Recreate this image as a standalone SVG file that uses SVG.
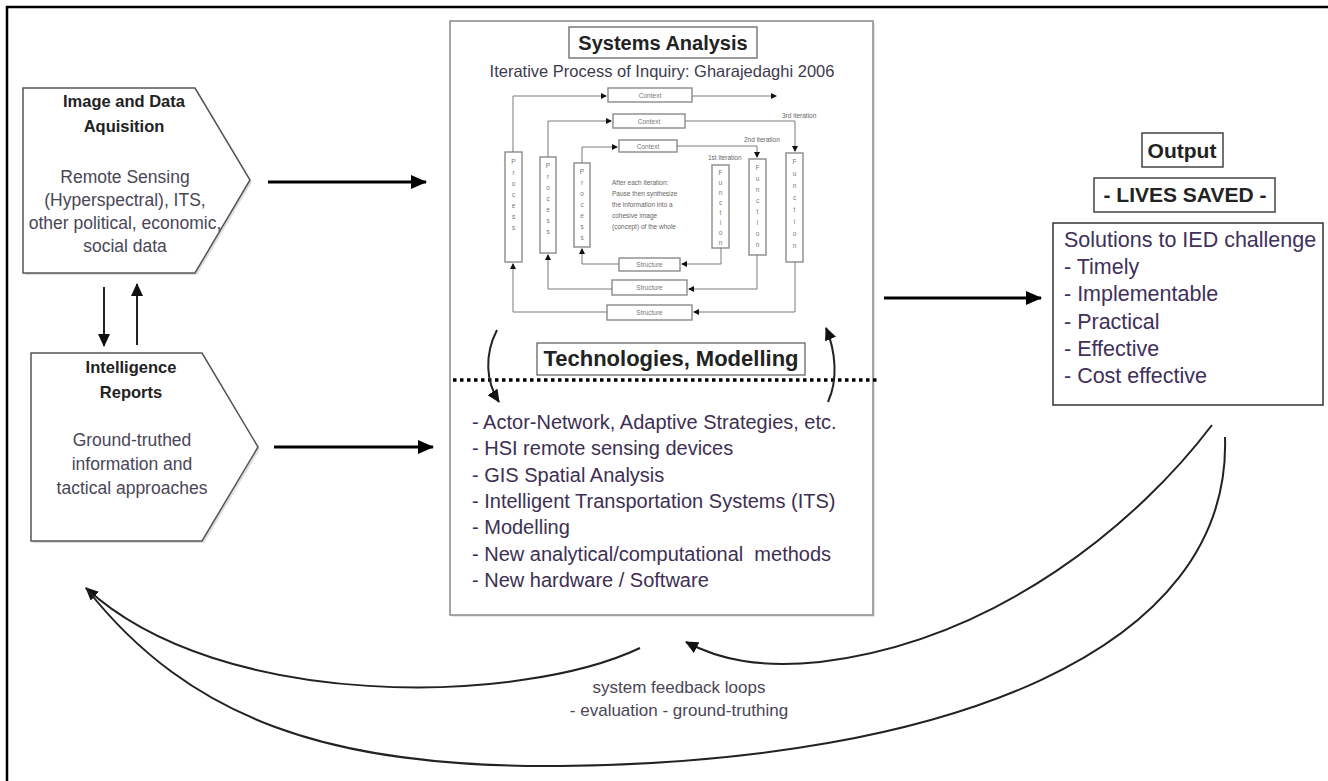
<svg xmlns="http://www.w3.org/2000/svg" width="1328" height="781" viewBox="0 0 1328 781">
<style>
text{font-family:"Liberation Sans",Arial,sans-serif}
.ttl{font-weight:bold;fill:#222;text-anchor:middle}
.body{fill:#4a4656;text-anchor:middle;font-size:17.5px}
.lst{fill:#3e2f52;font-size:20px}
.sol{fill:#40305a;font-size:21.5px}
.mini{fill:none;stroke:#8a8a8a;stroke-width:1.4}
.mline{fill:none;stroke:#7a7a7a;stroke-width:1}
.ml{font-size:6.5px;fill:#777;text-anchor:middle}
.mt{font-size:6.5px;fill:#666}
.big{stroke:#000;stroke-width:3;fill:none}
.fb{stroke:#222;stroke-width:2;fill:none}
</style>
<defs>
<marker id="ah" markerUnits="userSpaceOnUse" markerWidth="16" markerHeight="14" refX="15" refY="7" orient="auto"><path d="M0,0 L16,7 L0,14 z" fill="#000"/></marker>
<marker id="ahm" markerUnits="userSpaceOnUse" markerWidth="13" markerHeight="12" refX="12" refY="6" orient="auto"><path d="M0,0 L13,6 L0,12 z" fill="#111"/></marker>
<marker id="ahs" markerUnits="userSpaceOnUse" markerWidth="6" markerHeight="6" refX="5" refY="3" orient="auto"><path d="M0,0 L6,3 L0,6 z" fill="#111"/></marker>
</defs>
<rect x="0" y="0" width="1328" height="781" fill="#fff"/>
<rect x="7" y="7" width="1330" height="790" fill="none" stroke="#000" stroke-width="2.5"/>

<g id="node-image-data">
<polygon points="25,90 197,90 252,182 197,275 25,275" fill="#ddd" stroke="none"/>
<polygon points="23,88 195,88 250,180 195,273 23,273" fill="#fff" stroke="#555" stroke-width="1.5"/>
<text class="ttl" x="124" y="107" font-size="16.5">Image and Data</text>
<text class="ttl" x="124" y="132" font-size="16.5">Aquisition</text>
<text class="body" x="125" y="183">Remote Sensing</text>
<text class="body" x="125" y="206">(Hyperspectral), ITS,</text>
<text class="body" x="125" y="229">other political, economic,</text>
<text class="body" x="125" y="252">social data</text>
</g>

<g id="node-intelligence">
<polygon points="33,355 204,355 260,449 204,543 33,543" fill="#ddd" stroke="none"/>
<polygon points="31,353 202,353 258,447 202,541 31,541" fill="#fff" stroke="#555" stroke-width="1.5"/>
<text class="ttl" x="131" y="373" font-size="16.5">Intelligence</text>
<text class="ttl" x="131" y="398" font-size="16.5">Reports</text>
<text class="body" x="132" y="446">Ground-truthed</text>
<text class="body" x="132" y="470">information and</text>
<text class="body" x="132" y="494">tactical approaches</text>
</g>

<g id="node-systems-analysis">
<rect x="452" y="23" width="423" height="594" fill="#e6e6e6"/>
<rect x="450" y="21" width="423" height="594" fill="#fff" stroke="#888" stroke-width="1.5"/>
<rect x="569" y="27" width="188" height="31" fill="#fff" stroke="#666" stroke-width="1.3"/>
<text class="ttl" x="663" y="50" font-size="20">Systems Analysis</text>
<text x="662" y="77" font-size="16.5" fill="#3e3a4e" text-anchor="middle">Iterative Process of Inquiry: Gharajedaghi 2006</text>

<g id="iterative-process">
<rect class="mini" x="608" y="88" width="84" height="14"/>
<rect class="mini" x="613" y="114" width="72" height="14"/>
<rect class="mini" x="619" y="140" width="58" height="12"/>
<text class="ml" x="650" y="97.5">Context</text>
<text class="ml" x="649" y="123.5">Context</text>
<text class="ml" x="648" y="148.5">Context</text>
<rect class="mini" x="619" y="258" width="61" height="13"/>
<rect class="mini" x="612" y="280" width="75" height="15"/>
<rect class="mini" x="607" y="305" width="85" height="15"/>
<text class="ml" x="649.5" y="267">Structure</text>
<text class="ml" x="649.5" y="290">Structure</text>
<text class="ml" x="649.5" y="315">Structure</text>
<rect class="mini" x="505" y="152" width="17" height="110"/>
<rect class="mini" x="540" y="157" width="16" height="96"/>
<rect class="mini" x="574" y="163" width="16" height="84"/>
<rect class="mini" x="712" y="165" width="17" height="83"/>
<rect class="mini" x="749" y="159" width="17" height="96"/>
<rect class="mini" x="786" y="153" width="17" height="109"/>
<text class="ml"><tspan x="513.5" y="164">P</tspan><tspan x="513.5" y="175">r</tspan><tspan x="513.5" y="186">o</tspan><tspan x="513.5" y="197">c</tspan><tspan x="513.5" y="208">e</tspan><tspan x="513.5" y="219">s</tspan><tspan x="513.5" y="230">s</tspan></text>
<text class="ml"><tspan x="548" y="168">P</tspan><tspan x="548" y="179">r</tspan><tspan x="548" y="190">o</tspan><tspan x="548" y="201">c</tspan><tspan x="548" y="212">e</tspan><tspan x="548" y="223">s</tspan><tspan x="548" y="234">s</tspan></text>
<text class="ml"><tspan x="582" y="174">P</tspan><tspan x="582" y="185">r</tspan><tspan x="582" y="196">o</tspan><tspan x="582" y="207">c</tspan><tspan x="582" y="218">e</tspan><tspan x="582" y="229">s</tspan><tspan x="582" y="240">s</tspan></text>
<text class="ml"><tspan x="720.5" y="175">F</tspan><tspan x="720.5" y="185">u</tspan><tspan x="720.5" y="195">n</tspan><tspan x="720.5" y="205">c</tspan><tspan x="720.5" y="215">t</tspan><tspan x="720.5" y="225">i</tspan><tspan x="720.5" y="235">o</tspan><tspan x="720.5" y="245">n</tspan></text>
<text class="ml"><tspan x="757.5" y="170">F</tspan><tspan x="757.5" y="181">u</tspan><tspan x="757.5" y="192">n</tspan><tspan x="757.5" y="203">c</tspan><tspan x="757.5" y="214">t</tspan><tspan x="757.5" y="225">i</tspan><tspan x="757.5" y="236">o</tspan><tspan x="757.5" y="247">n</tspan></text>
<text class="ml"><tspan x="794.5" y="164">F</tspan><tspan x="794.5" y="176">u</tspan><tspan x="794.5" y="188">n</tspan><tspan x="794.5" y="200">c</tspan><tspan x="794.5" y="212">t</tspan><tspan x="794.5" y="224">i</tspan><tspan x="794.5" y="236">o</tspan><tspan x="794.5" y="248">n</tspan></text>
<g id="mini-connectors">
<path class="mline" d="M513,152 V96 H606" marker-end="url(#ahs)"/>
<path class="mline" d="M548,157 V121 H611" marker-end="url(#ahs)"/>
<path class="mline" d="M582,163 V147 H617" marker-end="url(#ahs)"/>
<path class="mline" d="M692,96 H776" marker-end="url(#ahs)"/>
<path class="mline" d="M685,121 H795 V151" marker-end="url(#ahs)"/>
<path class="mline" d="M677,146 H757 V157" marker-end="url(#ahs)"/>
<path class="mline" d="M721,248 V264 H682" marker-end="url(#ahs)"/>
<path class="mline" d="M757,255 V289 H689" marker-end="url(#ahs)"/>
<path class="mline" d="M795,262 V312 H694" marker-end="url(#ahs)"/>
<path class="mline" d="M619,264 H582 V249" marker-end="url(#ahs)"/>
<path class="mline" d="M612,289 H548 V255" marker-end="url(#ahs)"/>
<path class="mline" d="M607,312 H513 V264" marker-end="url(#ahs)"/>
</g>
<text class="mt" x="782" y="118" font-size="6">3rd iteration</text>
<text class="mt" x="744" y="142" font-size="6">2nd iteration</text>
<text class="mt" x="708" y="160" font-size="6">1st iteration</text>
<text class="mt" x="612" y="185">After each iteration:</text>
<text class="mt" x="612" y="196">Pause then synthesize</text>
<text class="mt" x="612" y="207">the information into a</text>
<text class="mt" x="612" y="218">cohesive image</text>
<text class="mt" x="612" y="229">(concept) of the whole</text>
</g>

<rect x="537" y="343" width="268" height="32" fill="#fff" stroke="#666" stroke-width="1.3"/>
<text class="ttl" x="671" y="366" font-size="22">Technologies, Modelling</text>
<line x1="453" y1="380" x2="877" y2="380" stroke="#000" stroke-width="3.5" stroke-dasharray="3.5 3.5"/>
<text class="lst" x="472" y="429">- Actor-Network, Adaptive Strategies, etc.</text>
<text class="lst" x="472" y="455.3">- HSI remote sensing devices</text>
<text class="lst" x="472" y="481.6">- GIS Spatial Analysis</text>
<text class="lst" x="472" y="507.9">- Intelligent Transportation Systems (ITS)</text>
<text class="lst" x="472" y="534.2">- Modelling</text>
<text class="lst" x="472" y="560.5">- New analytical/computational&#160; methods</text>
<text class="lst" x="472" y="586.8">- New hardware / Software</text>
</g>

<g id="node-output">
<rect x="1142" y="133" width="81" height="34" fill="#fff" stroke="#444" stroke-width="1.5"/>
<text class="ttl" x="1182" y="158" font-size="21">Output</text>
<rect x="1094" y="178" width="181" height="34" fill="#fff" stroke="#444" stroke-width="1.5"/>
<text class="ttl" x="1185" y="202" font-size="21" fill="#2a1e28">- LIVES SAVED -</text>
<rect x="1053" y="223" width="270" height="182" fill="#fff" stroke="#333" stroke-width="1.5"/>
<text class="sol" x="1064" y="247">Solutions to IED challenge</text>
<text class="sol" x="1064" y="274.2">- Timely</text>
<text class="sol" x="1064" y="301.4">- Implementable</text>
<text class="sol" x="1064" y="328.6">- Practical</text>
<text class="sol" x="1064" y="355.8">- Effective</text>
<text class="sol" x="1064" y="383">- Cost effective</text>
</g>

<g id="connectors">
<line class="big" x1="268" y1="182" x2="426" y2="182" marker-end="url(#ah)"/>
<line class="big" x1="274" y1="447" x2="433" y2="447" marker-end="url(#ah)"/>
<line class="big" x1="884" y1="298" x2="1041" y2="298" marker-end="url(#ah)"/>
<line x1="104" y1="287" x2="104" y2="346" stroke="#222" stroke-width="2" marker-end="url(#ahm)"/>
<line x1="137" y1="345" x2="137" y2="284" stroke="#222" stroke-width="2" marker-end="url(#ahm)"/>
<path class="fb" d="M497,330 C484,355 486,382 499,402" marker-end="url(#ahm)"/>
<path class="fb" d="M828,402 C838,380 836,352 826,328" marker-end="url(#ahm)"/>
<path class="fb" d="M640,648 C520,705 220,712 86,588" marker-end="url(#ahm)"/>
<path class="fb" d="M1212,425 C1140,520 1000,640 820,662 C760,668 720,660 686,642" marker-end="url(#ahm)"/>
<path class="fb" d="M1225,437 C1232,650 950,762 560,766 C330,768 190,720 86,588"/>
</g>
<text x="679" y="693" font-size="17" fill="#4a4656" text-anchor="middle" font-family="Liberation Sans, Arial, sans-serif">system feedback loops</text>
<text x="679" y="716" font-size="17" fill="#4a4656" text-anchor="middle" font-family="Liberation Sans, Arial, sans-serif">- evaluation - ground-truthing</text>
</svg>
